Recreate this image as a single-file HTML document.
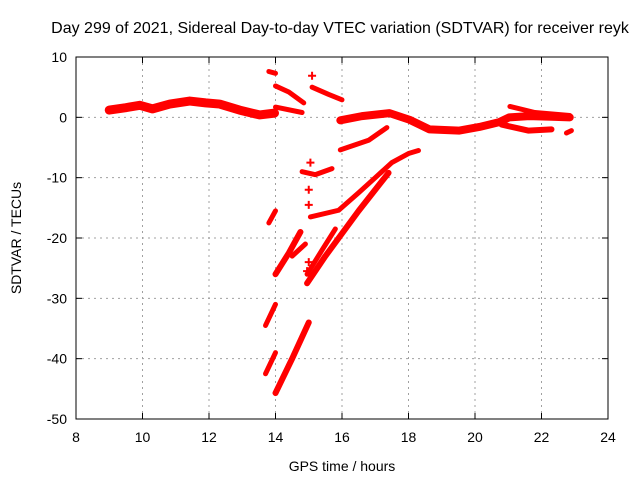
<!DOCTYPE html>
<html><head><meta charset="utf-8"><style>
body{margin:0;background:#fff}
svg{display:block;font-family:"Liberation Sans",sans-serif}
</style></head><body>
<svg id="chart" width="640" height="480" xmlns="http://www.w3.org/2000/svg">
<text x="340" y="33" font-size="16" text-anchor="middle">Day 299 of 2021, Sidereal Day-to-day VTEC variation (SDTVAR) for receiver reyk</text>
<text x="342" y="471" font-size="14" text-anchor="middle">GPS time / hours</text>
<text transform="translate(21,238) rotate(-90)" font-size="14" text-anchor="middle">SDTVAR / TECUs</text>
<g id="grid"></g><g id="marks"></g><g id="axes"></g>
</svg>
<script>
const xTicks=[8,10,12,14,16,18,20,22,24];
const yTicks=[10,0,-10,-20,-30,-40,-50];
// each series: hours and SDTVAR values
const seg1H=[9.0,9.5,9.92,10.3,10.82,11.42,11.9,12.32,12.92,13.52,13.97];
const seg1V=[1.2,1.6,2.0,1.4,2.2,2.7,2.4,2.2,1.2,0.4,0.7];
const seg2H=[15.95,16.6,17.43,18.03,18.63,19.53,20.13,20.73,21.03,21.63,22.3,22.85];
const seg2V=[-0.5,0.2,0.7,-0.4,-2.0,-2.2,-1.6,-0.8,0.0,0.2,0.1,0.0];
const seg3H=[20.8,21.6,22.3];const seg3V=[-1.2,-2.2,-2.0];
const seg4H=[21.05,21.8,22.85];const seg4V=[1.8,0.8,0.3];
const seg5H=[14.0,14.8];const seg5V=[1.7,0.8];
const seg6H=[13.8,14.0];const seg6V=[7.6,7.3];
const seg7H=[14.0,14.4,14.85];const seg7V=[5.2,4.2,2.4];
const seg8H=[15.1,15.6,16.0];const seg8V=[5.0,3.8,2.9];
const seg9H=[15.95,16.8,17.35];const seg9V=[-5.4,-3.8,-1.7];
const seg10H=[15.05,15.9,16.5,17.0,17.5,18.0,18.3];const seg10V=[-16.5,-15.4,-12.5,-10.0,-7.5,-6.0,-5.5];
const seg11H=[14.95,15.5,16.5,17.4];const seg11V=[-27.5,-23.0,-15.5,-9.2];
const seg12H=[14.95,15.4,15.8];const seg12V=[-26.0,-22.0,-18.5];
const seg13H=[14.8,15.2,15.7];const seg13V=[-9.0,-9.5,-8.5];
const seg14H=[13.8,14.0];const seg14V=[-17.5,-15.5];
const seg15H=[14.0,14.4,14.75];const seg15V=[-26.0,-22.5,-19.0];
const seg16H=[14.5,14.9];const seg16V=[-23.0,-21.0];
const seg17H=[13.7,14.0];const seg17V=[-34.5,-31.0];
const seg18H=[13.7,14.0];const seg18V=[-42.5,-39.0];
const seg19H=[14.0,14.5,15.0];const seg19V=[-45.7,-40.0,-34.0];
const seg20H=[22.75,22.9];const seg20V=[-2.6,-2.2];
const ptsH=[15.1,15.05,15.0,15.0,15.0,14.95];
const ptsV=[6.9,-7.5,-12.0,-14.5,-24.0,-25.5];
const series=[[seg1H,seg1V,9],[seg2H,seg2V,8],[seg3H,seg3V,6],[seg4H,seg4V,5],[seg5H,seg5V,5],[seg6H,seg6V,5],[seg7H,seg7V,5],[seg8H,seg8V,5],[seg9H,seg9V,5],[seg10H,seg10V,5],[seg11H,seg11V,6],[seg12H,seg12V,5],[seg13H,seg13V,5],[seg14H,seg14V,5],[seg15H,seg15V,6],[seg16H,seg16V,5],[seg17H,seg17V,5],[seg18H,seg18V,5],[seg19H,seg19V,6],[seg20H,seg20V,5]];
const L=76,R=608,T=57,B=419;
const xs=h=>L+(h-8)/16*(R-L);
const ys=v=>T+(10-v)/60*(B-T);
const NS="http://www.w3.org/2000/svg";
function mk(t,a,p){const e=document.createElementNS(NS,t);for(const k in a)e.setAttribute(k,a[k]);p.appendChild(e);return e;}
const grid=document.getElementById('grid'),marks=document.getElementById('marks'),axes=document.getElementById('axes');
xTicks.forEach(t=>{
 if(t>8&&t<24){const g=mk('line',{x1:xs(t),x2:xs(t),y1:T,y2:B,stroke:'#a0a0a0','stroke-dasharray':'2,4'},grid);
 
 }
 mk('line',{x1:xs(t),x2:xs(t),y1:B,y2:B-6,stroke:'#000'},axes);
 mk('line',{x1:xs(t),x2:xs(t),y1:T,y2:T+6,stroke:'#000'},axes);
 const tx=mk('text',{x:xs(t),y:B+23,'font-size':14,'text-anchor':'middle'},axes);tx.textContent=t;
 
 
});
yTicks.forEach(t=>{
 if(t<10&&t>-50){const g=mk('line',{x1:L,x2:R,y1:ys(t),y2:ys(t),stroke:'#a0a0a0','stroke-dasharray':'2,4'},grid);
 
 }
 mk('line',{x1:L,x2:L+6,y1:ys(t),y2:ys(t),stroke:'#000'},axes);
 mk('line',{x1:R,x2:R-6,y1:ys(t),y2:ys(t),stroke:'#000'},axes);
 const tx=mk('text',{x:L-9,y:ys(t)+5,'font-size':14,'text-anchor':'end'},axes);tx.textContent=t;
 
 
});
const fr=mk('rect',{x:L,y:T,width:R-L,height:B-T,fill:'none',stroke:'#000'},axes);


series.forEach(([H,V,w])=>{
 const p=mk('polyline',{points:H.map((h,i)=>xs(h)+','+ys(V[i])).join(' '),fill:'none',stroke:'#f00','stroke-width':w,'stroke-linejoin':'round','stroke-linecap':'round'},marks);
 
 
});
ptsH.forEach((h,i)=>{
 const x=xs(h),y=ys(ptsV[i]);
 const p=mk('path',{d:`M${x-4},${y}H${x+4}M${x},${y-4}V${y+4}`,stroke:'#f00','stroke-width':2},marks);
 
 
});
</script>
</body></html>
